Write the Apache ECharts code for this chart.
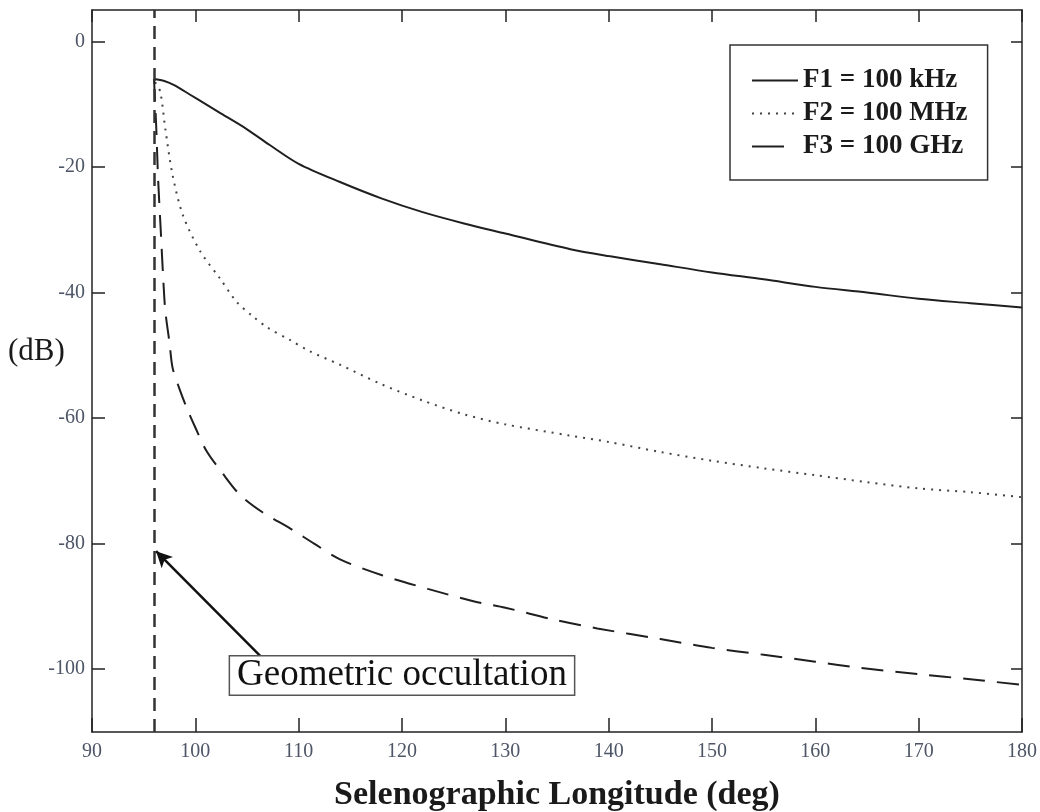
<!DOCTYPE html>
<html>
<head>
<meta charset="utf-8">
<script src="https://cdn.jsdelivr.net/npm/echarts@6/dist/echarts.min.js"></script>
<style>
html,body{margin:0;padding:0;background:#fff;}
#chart{width:1040px;height:812px;}
</style>
</head>
<body>
<div id="chart"></div>
<script>
// ---- data (longitude deg, attenuation dB) ----
const seriesNames = ['F1 = 100 kHz', 'F2 = 100 MHz', 'F3 = 100 GHz'];
const xTicks = [90, 100, 110, 120, 130, 140, 150, 160, 170, 180];
const yTicks = [0, -20, -40, -60, -80, -100];
const yAxisTitle = '(dB)';
const xAxisTitle = 'Selenographic Longitude (deg)';
const occultationLon = 96;

const f1 = [[96,-6],[97,-6.3],[98,-7],[99.5,-8.5],[101,-10],[102.5,-11.5],[105,-14],[107.2,-16.5],[110,-19.5],[114,-22.4],[118,-25],[122,-27.2],[126,-29],[130,-30.6],[136.3,-33.1],[140,-34.2],[145,-35.5],[150,-36.8],[155,-37.9],[160,-39.1],[165,-40],[170,-41],[175,-41.7],[180,-42.4]];
const f2 = [[96.1,-6.5],[96.6,-8],[97.1,-14],[97.8,-21.3],[98.8,-27.7],[100.5,-33.5],[102.4,-37.8],[104,-41.5],[105.5,-43.7],[107,-45.6],[109.2,-47.6],[111,-49.3],[114,-51.5],[118,-54.6],[122,-57.2],[126,-59.4],[130,-61],[136.3,-62.8],[140,-63.8],[145,-65.4],[150,-66.8],[155,-68],[160,-69.1],[165,-70.2],[170,-71.2],[175,-71.8],[180,-72.6]];
const f3 = [[96,-6],[96.2,-13],[96.4,-22],[96.65,-30],[96.9,-38],[97.1,-43],[97.5,-48],[97.8,-52],[98.5,-55.5],[99.2,-58.5],[100,-61.5],[101.1,-65.3],[102.5,-68.5],[104.3,-72.2],[106.5,-75],[109.2,-77.6],[111.5,-80],[114,-82.5],[118,-85],[122.5,-87.2],[127,-89.2],[130,-90.2],[134.7,-92.1],[138.9,-93.5],[145,-95.2],[150,-96.6],[155,-97.7],[160,-98.8],[164.4,-99.8],[170,-100.8],[175,-101.6],[180,-102.5]];

const annotationText = 'Geometric occultation';
const annotationAt = [120, -101];
const arrowFrom = [106.3, -97.9];
const arrowTo = [96.2, -81.2];

const SERIF = '"Liberation Serif","Times New Roman",serif';
const labelColor = '#4d5566';

const chart = echarts.init(document.getElementById('chart'));
const axisLineStyle = { color: '#222', width: 1.5 };

chart.setOption({
  animation: false,
  backgroundColor: '#fff',
  grid: { left: 92, right: 18, top: 10, bottom: 80, containLabel: false, outerBoundsMode: 'none' },
  graphic: [{
    type: 'text', left: 8, top: 336, silent: true,
    style: { text: yAxisTitle, fontFamily: SERIF, fontSize: 31, fill: '#1a1a1a' }
  }],
  legend: {
    orient: 'vertical',
    left: 730, top: 45,
    padding: [22, 20, 20, 21],
    itemGap: 6,
    itemWidth: 46, itemHeight: 14,
    borderColor: '#333', borderWidth: 1.5,
    backgroundColor: '#fff',
    itemStyle: { opacity: 0 },
    data: [
      { name: seriesNames[0] },
      { name: seriesNames[1] },
      { name: seriesNames[2], lineStyle: { type: [32, 40] } }
    ],
    textStyle: { fontFamily: SERIF, fontSize: 27, fontWeight: 'bold', color: '#1a1a1a', lineHeight: 27 }
  },
  xAxis: [{
    type: 'value', min: 90, max: 180, interval: 10,
    axisLine: { onZero: false, lineStyle: axisLineStyle },
    axisTick: { inside: true, length: 14, lineStyle: axisLineStyle },
    axisLabel: { margin: 10, fontFamily: SERIF, fontSize: 20, color: labelColor },
    splitLine: { show: false },
    name: xAxisTitle,
    nameLocation: 'middle', nameGap: 46,
    nameTextStyle: { fontFamily: SERIF, fontSize: 34, fontWeight: 'bold', color: '#1a1a1a' }
  }, {
    type: 'value', min: 90, max: 180, interval: 10, position: 'top',
    axisLine: { onZero: false, lineStyle: axisLineStyle },
    axisTick: { inside: true, length: 12, lineStyle: axisLineStyle },
    axisLabel: { show: false }, splitLine: { show: false }
  }],
  yAxis: [{
    type: 'value', min: -110, max: 5,
    axisLine: { show: true, onZero: false, lineStyle: axisLineStyle },
    axisTick: { show: true, inside: true, length: 13, lineStyle: axisLineStyle, customValues: yTicks },
    axisLabel: { margin: 7, fontFamily: SERIF, fontSize: 20, color: labelColor, customValues: yTicks },
    splitLine: { show: false }
  }, {
    type: 'value', min: -110, max: 5, position: 'right',
    axisLine: { show: true, onZero: false, lineStyle: axisLineStyle },
    axisTick: { show: true, inside: true, length: 11, lineStyle: axisLineStyle, customValues: yTicks },
    axisLabel: { show: false }, splitLine: { show: false }
  }],
  series: [
    {
      name: seriesNames[0], type: 'line', data: f1, smooth: 0.3, showSymbol: false, symbol: 'none',
      lineStyle: { color: '#1f1f1f', width: 2, type: 'solid' }, itemStyle: { color: '#1f1f1f' },
      markLine: {
        silent: true, symbol: ['none', 'none'], label: { show: false },
        lineStyle: { color: '#333', width: 2.5, type: [13, 8] },
        data: [{ xAxis: occultationLon }]
      }
    },
    {
      name: seriesNames[1], type: 'line', data: f2, smooth: 0.3, showSymbol: false, symbol: 'none',
      lineStyle: { color: '#444', width: 2, type: [2, 6] }, itemStyle: { color: '#444' }
    },
    {
      name: seriesNames[2], type: 'line', data: f3, smooth: 0.3, showSymbol: false, symbol: 'none',
      lineStyle: { color: '#1f1f1f', width: 2, type: [22, 12] }, itemStyle: { color: '#1f1f1f' },
      markLine: {
        silent: true, symbol: ['none', 'arrow'], symbolSize: [12, 16], label: { show: false },
        lineStyle: { color: '#111', width: 2.5, type: 'solid' },
        data: [[{ coord: arrowFrom }, { coord: arrowTo }]]
      },
      markPoint: {
        silent: true, symbol: 'rect', symbolSize: 0,
        data: [{ coord: annotationAt, value: annotationText }],
        label: {
          show: true, position: 'inside', formatter: annotationText,
          fontFamily: SERIF, fontSize: 37, lineHeight: 38, color: '#111',
          backgroundColor: '#fff', borderColor: '#555', borderWidth: 1.5,
          padding: [0, 7, 0, 7]
        }
      }
    }
  ]
});
</script>
</body>
</html>
